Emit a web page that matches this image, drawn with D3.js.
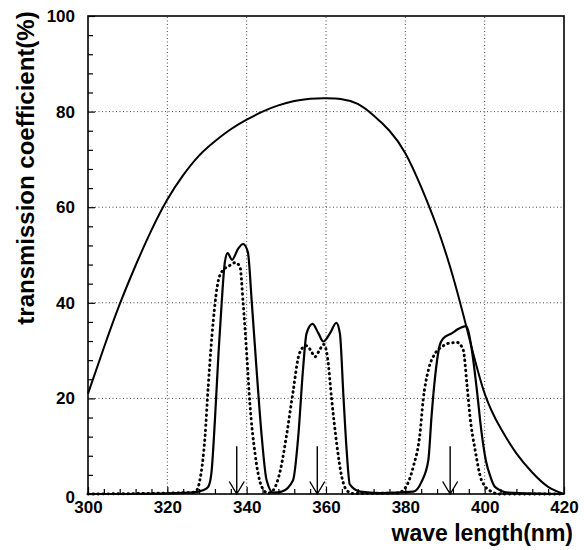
<!DOCTYPE html>
<html>
<head>
<meta charset="utf-8">
<script src="https://cdn.jsdelivr.net/npm/d3@7"></script>
<style>
  body { margin: 0; background: #fff; }
  text { font-family: "Liberation Sans", Arial, sans-serif; font-weight: bold; fill: #000; }
</style>
</head>
<body>
<div id="chart"></div>
<script>
// broad filter transmission curve
const broadX = [300, 304, 308, 312, 316, 320, 324, 328, 332, 336, 340, 344, 348, 352, 356, 360,
    364, 368, 372, 376, 380, 384, 388, 392, 396, 400, 404, 408, 412, 416, 420];
const broadY = [21, 30.6, 39.7, 47.8, 55.2, 61.6, 66.7, 70.8, 73.8, 76.3, 78.3, 80, 81.3, 82.2, 82.7, 82.8,
    82.6, 81.6, 79.2, 76, 71.3, 64.2, 55.8, 45.5, 33, 21, 13.8, 8.5, 4.5, 1.5, 0];

// solid line peaks
const solidX = [300, 310, 326, 329, 330.3, 331.1, 332, 332.9, 333.7, 334.5, 335.2, 336.3, 337.9, 339.1, 340.3,
    341.3, 342.5, 343.8, 345, 346.7, 348.8, 351.7, 353, 354.2, 355.1, 356.6, 358.1, 359.3, 361, 362.6,
    363.5, 364.4, 365.2, 366, 368.6, 373.6, 382, 384.1, 385.8, 386.6, 387.5, 388.7, 389.6, 391.7, 393.3,
    395.3, 396.7, 398, 399.2, 400.3, 401.5, 402.6, 405.9, 420];
const solidY = [0, 0, 0.3, 0.8, 1.5, 4.3, 15.5, 29.4, 40, 48.5, 50.4, 49, 51.4, 52.3, 50.6,
    40, 26, 12, 3, 0.3, 0.5, 2.9, 12, 26, 33.6, 35.6, 33.6, 31.9, 33.6, 35.8,
    33.6, 20.4, 9.2, 2, 0.5, 0.2, 0.5, 2.6, 7.1, 16.2, 24.5, 31.2, 32.6, 33.6, 34.5,
    35.1, 30.5, 22, 13, 7, 3.5, 1.5, 0.3, 0];

// dotted line peaks
const dottedX = [300, 326, 327.4, 328.2, 329.5, 330.3, 331.6, 332.9, 334.1, 335.4, 337.1, 338.3, 339.1, 340,
    340.8, 342.1, 343.8, 345.4, 346.7, 348.5, 350, 351.8, 353, 354, 355.1, 356.2, 357.2, 358.3, 359.4,
    360.4, 361.4, 362.7, 364, 365.3, 366.8, 378, 379.9, 382, 383.7, 384.5, 385.8, 387.5, 389.2, 390.8,
    393.1, 394.6, 395.5, 396.3, 397.6, 399.2, 401.7, 403.9, 420];
const dottedY = [0, 0.3, 0.8, 2.9, 12, 22.4, 36.4, 44.8, 46.9, 47.6, 48.4, 47.6, 40, 29.4,
    19, 8.5, 1.5, 0.2, 0.8, 5, 12, 22, 28.5, 30.5, 31, 30, 28.7, 30, 31.3,
    28.5, 20, 10.5, 3.5, 0.7, 0.1, 0.2, 1.2, 5.7, 12.7, 19.7, 25.9, 29.4, 30.8, 31.5,
    31.7, 30.1, 23.2, 16.2, 9.2, 2.9, 0.5, 0, 0];

// arrow markers (nm) and their top (%)
const arrowX = [337.5, 357.8, 391.3];
const arrowTop = 10;

const xTicks = [300, 320, 340, 360, 380, 400, 420];
const yTicks = [0, 20, 40, 60, 80, 100];

const width = 584, height = 550;
const svg = d3.select("#chart").append("svg")
    .attr("width", width)
    .attr("height", height);

const x = d3.scaleLinear().domain([300, 420]).range([88, 564]);
const y = d3.scaleLinear().domain([0, 100]).range([494, 16]);

// grid
const grid = svg.append("g")
    .attr("stroke", "#444")
    .attr("stroke-width", 1)
    .attr("stroke-dasharray", "1,2.5");
grid.selectAll(".gx").data(xTicks.slice(1, -1)).enter().append("line")
    .attr("x1", d => x(d)).attr("x2", d => x(d))
    .attr("y1", y(0)).attr("y2", y(100));
grid.selectAll(".gy").data(yTicks.slice(1, -1)).enter().append("line")
    .attr("x1", x(300)).attr("x2", x(420))
    .attr("y1", d => y(d)).attr("y2", d => y(d));

// axes
const xAxis = d3.axisBottom(x)
    .tickValues(d3.range(300, 421, 4))
    .tickSize(-5)
    .tickPadding(7)
    .tickFormat(d => xTicks.includes(d) ? d : "");
const gx = svg.append("g").attr("transform", `translate(0,${y(0)})`).call(xAxis);
gx.selectAll("text").style("font-size", "17px");
gx.selectAll(".tick line").attr("stroke-width", 1.2)
    .attr("y2", d => xTicks.includes(d) ? -7 : -5);

const yAxis = d3.axisLeft(y)
    .tickValues(d3.range(0, 101, 4))
    .tickSize(-5)
    .tickPadding(13)
    .tickFormat(d => yTicks.includes(d) ? d : "");
const gy = svg.append("g").attr("transform", `translate(${x(300)},0)`).call(yAxis);
gy.selectAll("text").style("font-size", "17px");
gy.selectAll(".tick line").attr("stroke-width", 1.2)
    .attr("x2", d => yTicks.includes(d) ? 7 : 5);
gy.selectAll(".tick").filter(d => d === 0).select("text").attr("dy", "0.5em");
svg.selectAll(".domain").remove();

// frame
svg.append("rect")
    .attr("x", x(300)).attr("y", y(100))
    .attr("width", x(420) - x(300)).attr("height", y(0) - y(100))
    .attr("fill", "none").attr("stroke", "#000").attr("stroke-width", 1.6);

// curves
const line = d3.line()
    .x(d => x(d[0]))
    .y(d => y(d[1]))
    .curve(d3.curveMonotoneX);

svg.append("path")
    .datum(d3.zip(broadX, broadY))
    .attr("d", line.curve(d3.curveNatural))
    .attr("fill", "none").attr("stroke", "#000").attr("stroke-width", 2);
line.curve(d3.curveMonotoneX);

svg.append("path")
    .datum(d3.zip(dottedX, dottedY))
    .attr("d", line)
    .attr("fill", "none").attr("stroke", "#000").attr("stroke-width", 2.9)
    .attr("stroke-linecap", "round")
    .attr("stroke-dasharray", "0.5,4.5");

svg.append("path")
    .datum(d3.zip(solidX, solidY))
    .attr("d", line)
    .attr("fill", "none").attr("stroke", "#000").attr("stroke-width", 2.2);

// arrows
svg.selectAll(".arrow").data(arrowX).enter().append("path")
    .attr("d", d => {
        const ax = x(d), top = y(arrowTop), bot = y(0);
        return `M${ax},${top}V${bot}M${ax - 7.5},${bot - 12.5}L${ax},${bot}L${ax + 7.5},${bot - 12.5}`;
    })
    .attr("fill", "none").attr("stroke", "#000").attr("stroke-width", 1.4);

// titles
svg.append("text")
    .attr("x", 573).attr("y", 541)
    .attr("text-anchor", "end")
    .style("font-size", "23px")
    .text("wave length(nm)");

svg.append("text")
    .attr("transform", "translate(34,168) rotate(-90)")
    .attr("text-anchor", "middle")
    .style("font-size", "24px")
    .text("transmission coefficient(%)");
</script>
</body>
</html>
